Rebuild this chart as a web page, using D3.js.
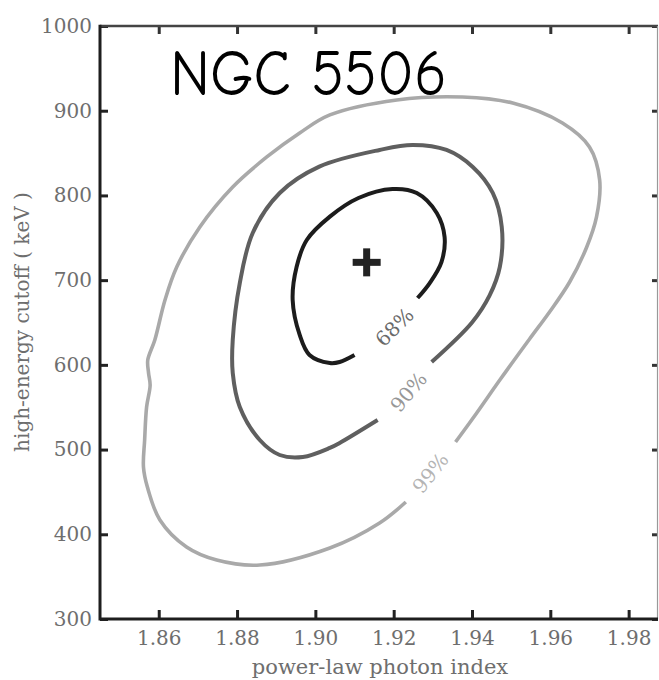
<!DOCTYPE html>
<html>
<head>
<meta charset="utf-8">
<script src="https://cdn.jsdelivr.net/npm/d3@7"></script>
<style>
  html, body { margin: 0; padding: 0; background: #fff; }
  svg { display: block; }
</style>
</head>
<body>
<div id="chart"></div>
<script>
// ---- data ----
const title = "NGC 5506";
const xLabel = "power-law photon index";
const yLabel = "high-energy cutoff ( keV )";
const xTicks = [1.86, 1.88, 1.90, 1.92, 1.94, 1.96, 1.98];
const yTicks = [300, 400, 500, 600, 700, 800, 900, 1000];
const xDomain = [1.845, 1.9875];
const yDomain = [300, 1000];
const bestFit = [1.9131, 721];

// contour lines (open paths, gap left for label) [photon index, keV]
const contour99 = [
  [1.9358, 508.9], [1.9412, 543.2], [1.9471, 582.1], [1.9547, 630.5], [1.9598, 662.4],
  [1.9649, 697.5], [1.9693, 739.1], [1.9718, 774.6], [1.9726, 818.2], [1.9700, 857.2],
  [1.9631, 885.5], [1.9504, 909.1], [1.9376, 916.2], [1.9208, 912.7], [1.9037, 895.0],
  [1.8960, 873.7], [1.8876, 845.4], [1.8789, 810.0], [1.8705, 762.8], [1.8646, 715.5],
  [1.8616, 676.6], [1.8590, 629.4], [1.8572, 605.7], [1.8574, 590.4], [1.8578, 576.0],
  [1.8569, 550.3], [1.8564, 511.3], [1.8561, 479.4], [1.8571, 455.8], [1.8603, 416.9],
  [1.8671, 385.0], [1.8748, 369.6], [1.8858, 363.7], [1.9037, 383.8], [1.9164, 413.3],
  [1.9231, 438.1]
];
const contour90 = [
  [1.9159, 534.9], [1.9062, 507.8], [1.9037, 501.9], [1.8968, 491.2], [1.8909, 493.6],
  [1.8858, 511.3], [1.8807, 550.3], [1.8789, 590.4], [1.8789, 629.4], [1.8807, 696.6],
  [1.8840, 755.7], [1.8909, 802.9], [1.9010, 834.0], [1.9164, 853.7],
  [1.9248, 859.6], [1.9335, 853.7], [1.9402, 833.6], [1.9453, 802.9], [1.9476, 762.8],
  [1.9471, 715.5], [1.9445, 682.0], [1.9400, 650.0], [1.9297, 603.4]
];
const contour68 = [
  [1.9100, 611.7], [1.9062, 603.4], [1.9037, 602.2], [1.8985, 611.7], [1.8960, 635.3],
  [1.8942, 676.6], [1.8952, 715.5], [1.8978, 747.4], [1.9037, 775.0], [1.9110, 797.0],
  [1.9197, 807.6], [1.9259, 802.9], [1.9310, 779.3], [1.9330, 750.9],
  [1.9322, 721.4], [1.9292, 696.6], [1.9261, 678.9]
];
const contourNames = ["99%", "90%", "68%"];
const contourColors = ["#a9a9a9", "#5f5f5f", "#1c1c1c"];
const labelColors = ["#b4b4b4", "#979797", "#6a6a6a"];
// label anchor positions [photon index, keV] and rotation
const labelPos = [[1.9294, 472.4], [1.9238, 568.0], [1.9202, 644.7]];
const labelAngle = [-52, -50, -45];

// ---- layout ----
const W = 659, H = 680;
const m = { left: 100, right: 1, top: 26, bottom: 61 };
const svg = d3.select("#chart").append("svg").attr("width", W).attr("height", H);

const x = d3.scaleLinear().domain(xDomain).range([m.left, W - m.right]);
const y = d3.scaleLinear().domain(yDomain).range([H - m.bottom, m.top]);

const serif = "'DejaVu Serif', 'Liberation Serif', serif";
const tickColor = "#6e6e6e";

// contours
const line = d3.line().x(d => x(d[0])).y(d => y(d[1])).curve(d3.curveCatmullRom.alpha(0.5));
const contours = [contour99, contour90, contour68];
const widths = [3.6, 4, 4];
svg.append("g").selectAll("path").data(contours).join("path")
  .attr("d", d => line(d))
  .attr("fill", "none")
  .attr("stroke", (d, i) => contourColors[i])
  .attr("stroke-width", (d, i) => widths[i])
  .attr("stroke-linecap", "butt")
  .attr("stroke-linejoin", "round");

// contour labels
svg.append("g").selectAll("text").data(contourNames).join("text")
  .attr("transform", (d, i) => `translate(${x(labelPos[i][0])},${y(labelPos[i][1])}) rotate(${labelAngle[i]})`)
  .attr("text-anchor", "middle")
  .attr("dominant-baseline", "central")
  .attr("font-family", serif)
  .attr("font-size", 20)
  .attr("fill", (d, i) => labelColors[i])
  .text(d => d);

// best-fit cross
const cs = 14, ct = 7;
const cross = svg.append("g").attr("transform", `translate(${x(bestFit[0])},${y(bestFit[1])})`);
cross.append("rect").attr("x", -cs).attr("y", -ct / 2).attr("width", 2 * cs).attr("height", ct).attr("fill", "#222");
cross.append("rect").attr("x", -ct / 2).attr("y", -cs).attr("width", ct).attr("height", 2 * cs).attr("fill", "#222");

// axes (ticks inward)
const x0 = m.left, x1 = W - m.right, y0 = H - m.bottom, y1 = m.top;
const bottomAxis = d3.axisBottom(x).tickValues(xTicks).tickFormat(d3.format(".2f")).tickSizeInner(-9).tickSizeOuter(0).tickPadding(12);
const gB = svg.append("g").attr("transform", `translate(0,${y0})`).call(bottomAxis);
gB.select(".domain").remove();
gB.selectAll(".tick line").attr("stroke", "#222").attr("stroke-width", 3);
gB.selectAll(".tick text").attr("font-family", serif).attr("font-size", 20).attr("fill", tickColor);

const topAxis = d3.axisTop(x).tickValues(xTicks).tickFormat("").tickSizeInner(-8).tickSizeOuter(0);
const gT = svg.append("g").attr("transform", `translate(0,${y1})`).call(topAxis);
gT.select(".domain").remove();
gT.selectAll(".tick line").attr("stroke", "#333").attr("stroke-width", 3);

const leftAxis = d3.axisLeft(y).tickValues(yTicks).tickFormat(d3.format("d")).tickSizeInner(-8).tickSizeOuter(0).tickPadding(8);
const gL = svg.append("g").attr("transform", `translate(${x0},0)`).call(leftAxis);
gL.select(".domain").remove();
gL.selectAll(".tick line").attr("stroke", "#222").attr("stroke-width", 3);
gL.selectAll(".tick text").attr("font-family", serif).attr("font-size", 20).attr("fill", tickColor);

const rightAxis = d3.axisRight(y).tickValues(yTicks).tickFormat("").tickSizeInner(-6).tickSizeOuter(0);
const gR = svg.append("g").attr("transform", `translate(${x1},0)`).call(rightAxis);
gR.select(".domain").remove();
gR.selectAll(".tick line").attr("stroke", "#333").attr("stroke-width", 3);

// spines
svg.append("line").attr("x1", x0).attr("x2", x1).attr("y1", y1).attr("y2", y1).attr("stroke", "#444").attr("stroke-width", 2.5);
svg.append("line").attr("x1", x1 - 0.5).attr("x2", x1 - 0.5).attr("y1", y1).attr("y2", y0).attr("stroke", "#999").attr("stroke-width", 1.2);
svg.append("line").attr("x1", x0).attr("x2", x1).attr("y1", y0).attr("y2", y0).attr("stroke", "#1e1e1e").attr("stroke-width", 3);
svg.append("line").attr("x1", x0).attr("x2", x0).attr("y1", y1 - 1.25).attr("y2", y0 + 1.5).attr("stroke", "#1e1e1e").attr("stroke-width", 3);

// axis titles
svg.append("text")
  .attr("x", 380).attr("y", 674)
  .attr("text-anchor", "middle")
  .attr("font-family", serif).attr("font-size", 21).attr("fill", tickColor)
  .text(xLabel);
svg.append("text")
  .attr("transform", `translate(29,${322}) rotate(-90)`)
  .attr("text-anchor", "middle")
  .attr("font-family", serif).attr("font-size", 20).attr("fill", tickColor)
  .text(yLabel);

// title
svg.append("text")
  .attr("x", 170).attr("y", 95)
  .attr("font-family", "'Comic Sans MS', 'Comic Neue', 'DejaVu Sans', sans-serif")
  .attr("font-size", 64)
  .attr("textLength", 277).attr("lengthAdjust", "spacingAndGlyphs")
  .attr("fill", "#000")
  .text(title);
</script>
</body>
</html>
